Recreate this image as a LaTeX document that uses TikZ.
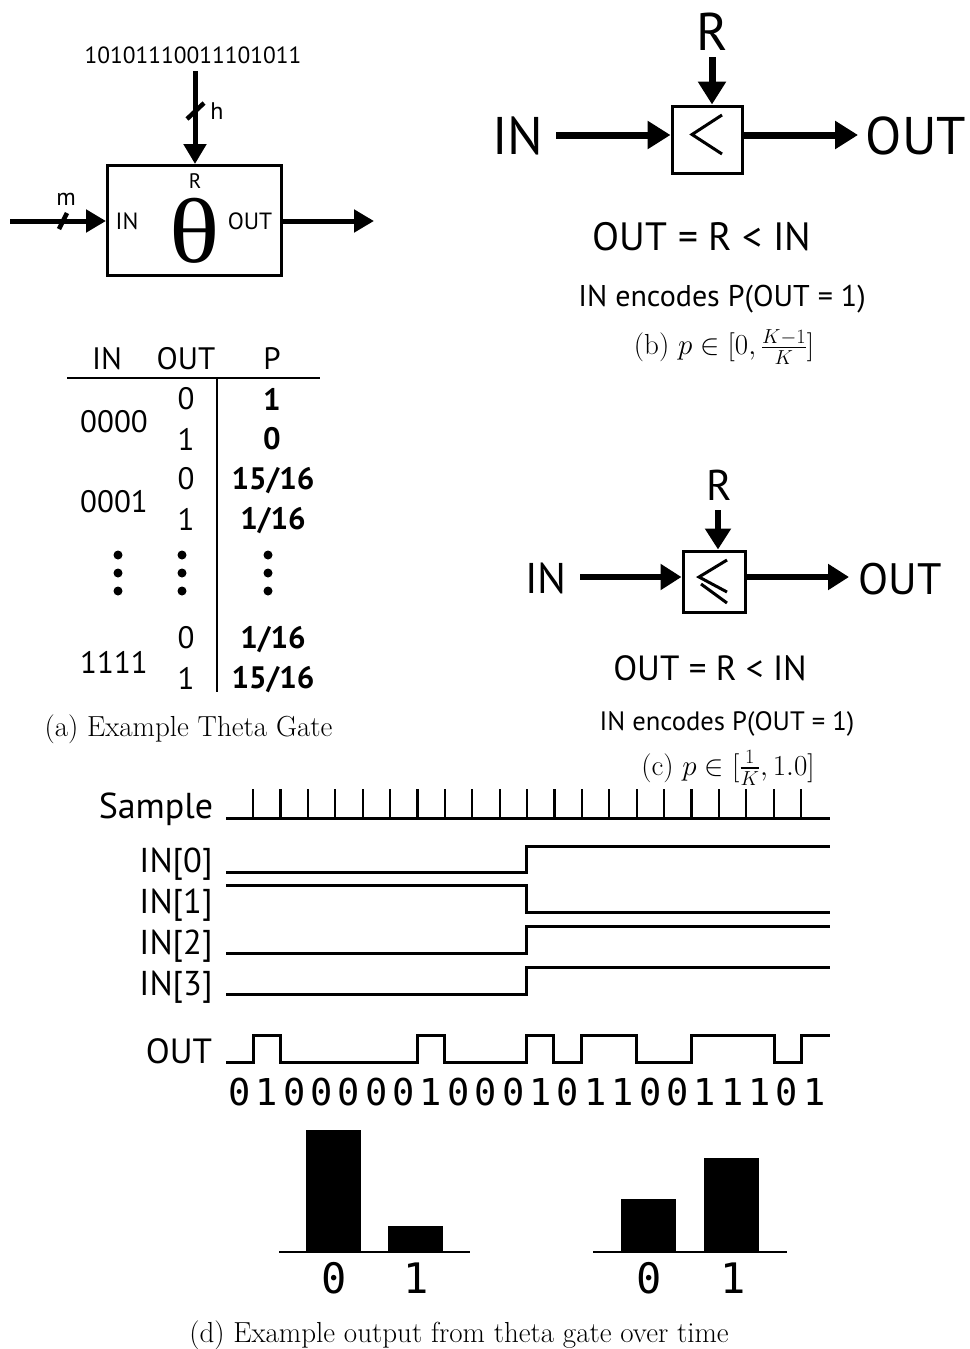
\documentclass[tikz,border=0pt]{standalone}
\usepackage{fix-cm}
\usepackage[no-math]{fontspec}
\usepackage{amsmath,amssymb}
\usetikzlibrary{arrows.meta}
\newfontfamily\ptsf{PT Sans}
\newfontfamily\monof{DejaVu Sans Mono}
\newfontfamily\serf{Liberation Serif}
\newcommand{\fsz}[1]{\fontsize{#1}{#1}\selectfont}
\tikzset{
  txt/.style={inner sep=0pt,font=\ptsf\fsz{#1}},
  ptbold/.style={inner sep=0pt,font=\ptsf\bfseries\fsz{#1}},
  cap/.style={inner sep=0pt,font=\fsz{#1}},
  mono/.style={inner sep=0pt,font=\monof\fsz{#1}},
  gatebox/.style={draw=black,line width=3pt,inner sep=0pt,fill=white},
  sig/.style={line width=3pt,line join=miter},
  wire/.style={line width=5pt,-{Triangle[length=20pt,width=22pt]}},
  wireb/.style={line width=7pt,-{Triangle[length=23pt,width=27pt]}},
  wirec/.style={line width=6pt,-{Triangle[length=21pt,width=25pt]}},
  thin bar/.style={line width=2.8pt},
  vdot/.style={circle,fill=black,inner sep=0pt,minimum size=9pt},
}
\begin{document}
\begin{tikzpicture}[x=1pt,y=-1pt]
\useasboundingbox (0,0) rectangle (969,1349);
% ---------- (a) theta gate
\node[gatebox,minimum width=174pt,minimum height=110pt] (abox) at (194.5,220.5) {};
\node[txt=23.4] (abits) at (193,55) {10101110011101011};
\node[txt=23.5] (ain) at (127,221) {IN};
\node[txt=23.5] (aout) at (250,221) {OUT};
\node[inner sep=0pt,font=\serf\fsz{92},text height=66pt,text depth=0pt] (ath) at (195,229) {\scalebox{1.14}[1]{θ}};
\node[txt=21] (ar) at (195,181) {R};
\node[txt=24] (ah) at (217,111) {h};
\node[txt=24] (am) at (66,199) {m};
\coordinate (aw) at (10,221);
\coordinate (ae) at (374,221);
\coordinate (at) at (195,71);
\draw[wire] (at) -- (abox.north -| at);
\draw[wire] (aw) -- (abox.west |- aw);
\draw[wire] (abox.east |- ae) -- (ae);
\draw[line width=4.5pt] (187,119) -- (204,103);
\draw[line width=4.5pt] (59,229) -- (67,213);
% table
\node[txt=31] (thin) at (107,359) {IN};
\node[txt=31] (thout) at (186,359) {OUT};
\node[txt=31] (thp) at (272,359) {P};
\draw[thin bar] (67,378) -- (320,378);
\draw[thin bar] (217,378) -- (217,692);
\node[txt=31] (i0) at (114,422) {0000};
\node[txt=31] (i1) at (114,502) {0001};
\node[txt=31] (i2) at (114,662) {1111};
\node[txt=31] (o0) at (186,399) {0};
\node[txt=31] (o1) at (186,439) {1};
\node[txt=31] (o2) at (186,479) {0};
\node[txt=31] (o3) at (186,519) {1};
\node[txt=31] (o4) at (186,638) {0};
\node[txt=31] (o5) at (186,678) {1};
\node[ptbold=31] (p0) at (272,399) {1};
\node[ptbold=31] (p1) at (272,439) {0};
\node[ptbold=31] (p2) at (273,481) {15/16};
\node[ptbold=31] (p3) at (273,521) {1/16};
\node[ptbold=31] (p4) at (273,640) {1/16};
\node[ptbold=31] (p5) at (273,680) {15/16};
\foreach \x in {118,182,268}{\foreach \y in {555,573,591}{\node[vdot] at (\x,\y) {};}}
\node[cap=29] (capa) at (188.5,729) {(a) Example Theta Gate};
% ---------- (b)
\node[gatebox,minimum width=70pt,minimum height=67pt] (bbox) at (707,139.5) {};
\node[txt=53] (br) at (712,32) {R};
\node[txt=53] (bin) at (518,136) {IN};
\node[txt=53] (bout) at (916,136) {OUT};
\coordinate (bw) at (556,135);
\coordinate (bt) at (712,57);
\coordinate (be) at (858,135);
\draw[wireb] (bw) -- (bbox.west |- bw);
\draw[wireb] (bt) -- (bbox.north -| bt);
\draw[wireb] (bbox.east |- be) -- (be);
\draw[line width=3pt] (722,115) -- (692,134.5) -- (722,154);
\node[txt=39.5] (beq) at (702,237) {OUT = R < IN};
\node[txt=30] (benc) at (722,299) {IN encodes P(OUT = 1)};
\node[cap=29] (capb) at (724,347) {(b) $p\in[0,\frac{K-1}{K}]$};
% ---------- (c)
\node[gatebox,minimum width=62pt,minimum height=61pt] (cbox) at (714,581.5) {};
\node[txt=43] (cr) at (719,485) {R};
\node[txt=43] (cin) at (546,578) {IN};
\node[txt=44] (cout) at (900,579) {OUT};
\coordinate (cw) at (580,577);
\coordinate (ct) at (718,510);
\coordinate (ce) at (849,577);
\draw[wirec] (cw) -- (cbox.west |- cw);
\draw[wirec] (ct) -- (cbox.north -| ct);
\draw[wirec] (cbox.east |- ce) -- (ce);
\draw[line width=3pt] (727,560) -- (699,577) -- (727,592);
\draw[line width=3pt] (701,584) -- (727,603);
\node[txt=35] (ceq) at (710,668) {OUT = R < IN};
\node[txt=26.6] (cenc) at (727,724) {IN encodes P(OUT = 1)};
\node[cap=29] (capc) at (728,768) {(c) $p\in[\frac{1}{K},1.0]$};
% ---------- (d) timing
\node[txt=36] (ls) at (156,809) {Sample};
\node[txt=34.5] (l0) at (176,864) {IN[0]};
\node[txt=34.5] (l1) at (176,905) {IN[1]};
\node[txt=34.5] (l2) at (176,946) {IN[2]};
\node[txt=34.5] (l3) at (176,987) {IN[3]};
\node[txt=35] (lo) at (179,1051) {OUT};
\draw[sig] (226,818) -- (830,818);
\foreach \i in {0,...,20}{\draw[line width=2.2pt] ({253+27.4*\i},789) -- ({253+27.4*\i},818);}
\draw[sig] (226,872) -- (526,872) -- (526,846) -- (830,846);
\draw[sig] (226,885) -- (526,885) -- (526,912) -- (830,912);
\draw[sig] (226,953) -- (526,953) -- (526,926) -- (830,926);
\draw[sig] (226,994) -- (526,994) -- (526,967) -- (830,967);
\draw[sig] (226,1062) -- (253,1062) -- (253,1035) -- (280,1035) -- (280,1062)
  -- (417,1062) -- (417,1035) -- (444,1035) -- (444,1062)
  -- (526,1062) -- (526,1035) -- (553,1035) -- (553,1062)
  -- (581,1062) -- (581,1035) -- (636,1035) -- (636,1062)
  -- (691,1062) -- (691,1035) -- (774,1035) -- (774,1062)
  -- (801,1062) -- (801,1035) -- (830,1035);
\node[mono=37] (bits) at (527,1092) {\addfontfeature{LetterSpace=13.8}0100000100010110011101};
% bars
\fill (306,1130) rectangle (361,1252);
\fill (388,1226) rectangle (443,1252);
\fill (621,1199) rectangle (676,1252);
\fill (704,1158) rectangle (759,1252);
\draw[thin bar] (279,1252) -- (470,1252);
\draw[thin bar] (593,1252) -- (787,1252);
\node[mono=42] (h0) at (334,1278) {0};
\node[mono=42] (h1) at (416,1278) {1};
\node[mono=42] (h2) at (649,1278) {0};
\node[mono=42] (h3) at (733,1278) {1};
\node[cap=29] (capd) at (459,1335) {(d) Example output from theta gate over time};
\end{tikzpicture}
\end{document}
